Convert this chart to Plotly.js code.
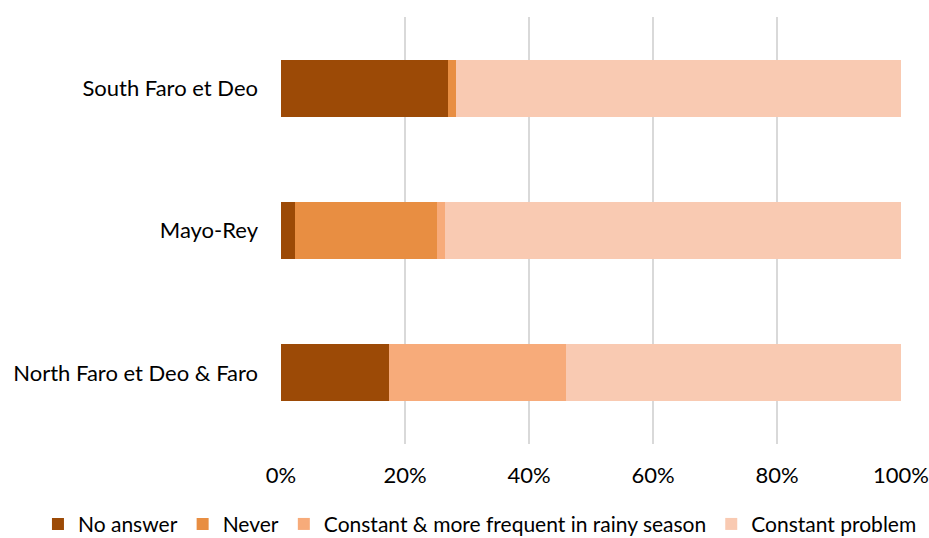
<!DOCTYPE html>
<html>
<head>
<meta charset="utf-8">
<script src="https://cdn.plot.ly/plotly-3.0.1.min.js"></script>
<style>html,body{margin:0;padding:0;background:#fff;}#chart{width:929px;height:538px;}</style>
</head>
<body>
<div id="chart"></div>
<script>
const categories = ["North Faro et Deo & Faro", "Mayo-Rey", "South Faro et Deo"];
const seriesNames = ["No answer", "Never", "Constant & more frequent in rainy season", "Constant problem"];
const noAnswer = [17.4, 2.2, 26.9];
const never = [0, 22.9, 1.25];
const constantRainy = [28.6, 1.3, 0];
const constantProblem = [54.0, 73.6, 71.85];
const colors = ["#9C4A06", "#E88E42", "#F7AB7A", "#F9CAB2"];
const tickVals = [0, 20, 40, 60, 80, 100];
const tickText = ["0%", "20%", "40%", "60%", "80%", "100%"];

const values = [noAnswer, never, constantRainy, constantProblem];
const traces = values.map((v, i) => ({
  type: "bar",
  orientation: "h",
  name: seriesNames[i],
  y: categories,
  x: v,
  marker: {color: colors[i], line: {width: 0}},
  hoverinfo: "x+y+name"
}));

const layout = {
  width: 929, height: 538,
  barmode: "stack",
  bargap: 0.6,
  paper_bgcolor: "#fff", plot_bgcolor: "#fff",
  font: {family: "Lato, 'Open Sans', sans-serif", size: 22, color: "#000"},
  margin: {l: 281, r: 28, t: 17, b: 94, autoexpand: false},
  xaxis: {
    range: [0, 100], tickvals: tickVals, ticktext: tickText,
    showgrid: true, gridcolor: "#D9D9D9", gridwidth: 2,
    zeroline: false, showline: false, ticks: "", ticklabelstandoff: 16,
    tickfont: {size: 22}
  },
  yaxis: {
    showgrid: false, zeroline: false, showline: false, ticks: "",
    ticklabelstandoff: 22, tickfont: {size: 22}
  },
  showlegend: true,
  legend: {
    orientation: "h", xref: "paper", yref: "paper",
    x: -0.392, xanchor: "left", y: -0.140, yanchor: "top",
    font: {size: 21}, traceorder: "normal", itemwidth: 30
  }
};
Plotly.newPlot("chart", traces, layout, {displayModeBar: false, staticPlot: true});
</script>
</body>
</html>
